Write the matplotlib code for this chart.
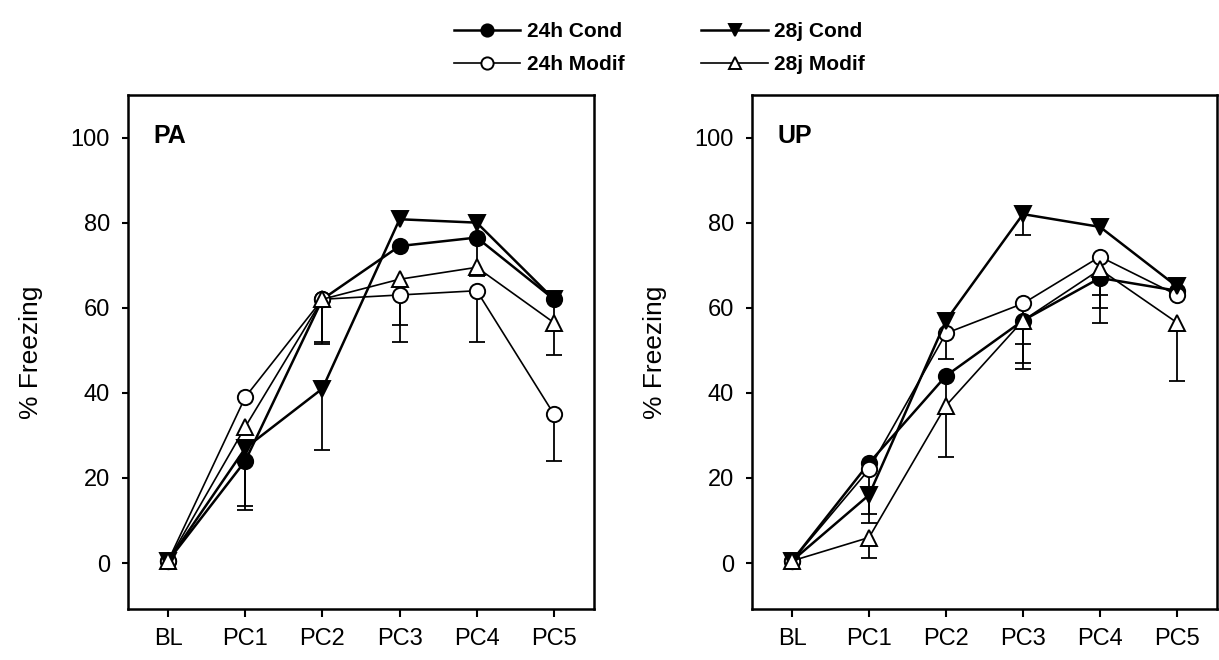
import numpy as np
import matplotlib
matplotlib.use("Agg")
import matplotlib.pyplot as plt

plt.rcParams['font.family'] = ['Liberation Sans', 'DejaVu Sans']

# x categories
sessions = ["BL", "PC1", "PC2", "PC3", "PC4", "PC5"]

# PA panel: means and lower error (only the down side is drawn, 0 = hidden)
pa_24h_cond = [0.5, 24, 62, 74.5, 76.5, 62]
pa_24h_cond_err = [0, 10.5, 10, 0, 9, 13]
pa_24h_modif = [0.5, 39, 62, 63, 64, 35]
pa_24h_modif_err = [0, 0, 0, 11, 12, 11]
pa_28j_cond = [0.5, 27, 41, 80.8, 80, 62]
pa_28j_cond_err = [0, 14.5, 14.5, 0, 0, 0]
pa_28j_modif = [0.5, 32, 62, 66.7, 69.5, 56.5]
pa_28j_modif_err = [0, 0, 10.5, 10.7, 0, 0]

# UP panel
up_24h_cond = [0.5, 23.5, 44, 57, 67, 64]
up_24h_cond_err = [0, 12, 9, 10, 10.5, 0]
up_24h_modif = [0.5, 22, 54, 61, 72, 63]
up_24h_modif_err = [0, 0, 0, 9.6, 9, 0]
up_28j_cond = [0.5, 16, 57, 82, 79, 65]
up_28j_cond_err = [0, 6.6, 9, 5, 0, 0]
up_28j_modif = [0.5, 6, 37, 57, 69, 56.5]
up_28j_modif_err = [0, 4.8, 12, 11.5, 9, 13.8]

labels = ["24h Cond", "24h Modif", "28j Cond", "28j Modif"]
markers = ["o", "o", "v", "^"]
faces = ["black", "white", "black", "white"]
widths = [1.8, 1.2, 1.8, 1.2]

fig = plt.figure(figsize=(12.19, 6.6), dpi=100)
ax1 = fig.add_axes([128 / 1219, 51 / 660, 466 / 1219, 514 / 660])
ax2 = fig.add_axes([752 / 1219, 51 / 660, 465 / 1219, 514 / 660])

x = np.arange(len(sessions))
handles = {}


def draw_panel(ax, series, errs, tag):
    # open markers first so the filled ones end up on top
    for i in [1, 3, 0, 2]:
        y = np.array(series[i])
        e = np.array(errs[i])
        m = e > 0
        if m.any():
            eb = ax.errorbar(x[m], y[m], yerr=[e[m], np.zeros(m.sum())], fmt="none",
                             ecolor="black", elinewidth=1.3, capsize=5.5,
                             capthick=1.3, zorder=2 + i * 0.1)
            eb[1][1].set_visible(False)
        ln, = ax.plot(x, y, color="black", lw=widths[i], marker=markers[i],
                      markersize=11, markerfacecolor=faces[i],
                      markeredgecolor="black", markeredgewidth=1.4,
                      zorder=3 + i * 0.1, label=labels[i])
        handles[labels[i]] = ln
    ax.set_xlim(-0.52, 5.52)
    ax.set_ylim(-10.8, 110)
    ax.set_xticks(x)
    ax.set_xticklabels(sessions)
    ax.set_yticks([0, 20, 40, 60, 80, 100])
    ax.tick_params(direction="out", length=4, width=1.5, labelsize=17, pad=9)
    ax.tick_params(axis="x", length=6, pad=8)
    for s in ax.spines.values():
        s.set_linewidth(1.8)
    ax.set_ylabel("% Freezing", fontsize=19, labelpad=20)
    ax.text(0.054, 0.92, tag, transform=ax.transAxes, fontsize=18,
            fontweight="bold", va="center", ha="left")


draw_panel(ax1, [pa_24h_cond, pa_24h_modif, pa_28j_cond, pa_28j_modif],
           [pa_24h_cond_err, pa_24h_modif_err, pa_28j_cond_err, pa_28j_modif_err], "PA")
draw_panel(ax2, [up_24h_cond, up_24h_modif, up_28j_cond, up_28j_modif],
           [up_24h_cond_err, up_24h_modif_err, up_28j_cond_err, up_28j_modif_err], "UP")

leg_handles = [handles[lb] for lb in labels]
fig.legend(leg_handles, labels, ncol=2,
           loc="center", bbox_to_anchor=(0.541, 0.927), frameon=False,
           prop={"weight": "bold", "size": 15}, handlelength=3.2,
           handletextpad=0.3, columnspacing=3.7, labelspacing=0.7,
           borderpad=0, markerscale=0.8)

fig.savefig("out.png", dpi=100)
